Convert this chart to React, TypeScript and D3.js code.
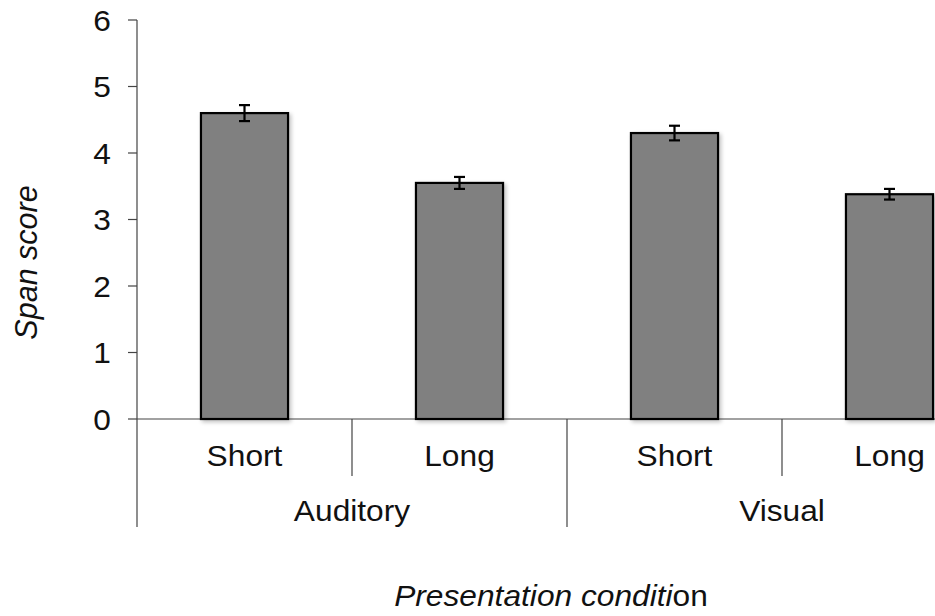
import React from "react";
import * as d3 from "d3";

const categories = ["Short", "Long", "Short", "Long"];
const groups = ["Auditory", "Visual"];
const values = [4.6, 3.55, 4.3, 3.38];
const errors = [0.12, 0.09, 0.11, 0.08];
const yTicks = [0, 1, 2, 3, 4, 5, 6];

const W = 935;
const H = 616;
const font = "'Liberation Sans', Arial, Helvetica, sans-serif";

function HText({ x, y, children, anchor = "middle", dy }: any) {
  return (
    <text
      transform={`translate(${x},${y}) scale(1.075,1)`}
      textAnchor={anchor}
      dy={dy}
      fontSize={29.5}
      fill="#111"
    >
      {children}
    </text>
  );
}

export default function App() {
  const x0 = 137;
  const x1 = 997;
  const p = 0.595;
  const x = d3
    .scaleBand<number>()
    .domain(d3.range(categories.length))
    .range([x0, x1])
    .paddingInner(p)
    .paddingOuter(p / 2);
  const y = d3.scaleLinear().domain([0, 6]).range([419, 20]);
  const step = x.step();

  return (
    <svg
      width={W}
      height={H}
      style={{ position: "absolute", left: 0, top: 0, background: "#fff" }}
      fontFamily={font}
    >
      <defs>
        <filter id="sh" x="-10%" y="-10%" width="130%" height="130%">
          <feGaussianBlur in="SourceAlpha" stdDeviation="2" />
          <feOffset dx="2" dy="2" result="b" />
          <feComponentTransfer>
            <feFuncA type="linear" slope="0.25" />
          </feComponentTransfer>
          <feMerge>
            <feMergeNode />
            <feMergeNode in="SourceGraphic" />
          </feMerge>
        </filter>
      </defs>
      {/* y axis */}
      <line x1={x0} x2={x0} y1={y(6)} y2={527} stroke="#444" strokeWidth={1.2} />
      {yTicks.map((t) => (
        <g key={t}>
          <line x1={x0 - 9} x2={x0} y1={y(t)} y2={y(t)} stroke="#444" strokeWidth={1.2} />
          <HText x={111} y={y(t)} anchor="end" dy="0.36em">
            {t}
          </HText>
        </g>
      ))}
      {/* x axis */}
      <line x1={x0} x2={W} y1={y(0)} y2={y(0)} stroke="#444" strokeWidth={1.2} />
      {/* separators */}
      {categories.map((_, i) => {
        if (i === 0) return null;
        const sx = x0 + i * step;
        const isGroup = i % 2 === 0;
        return (
          <line
            key={"s" + i}
            x1={sx}
            x2={sx}
            y1={y(0)}
            y2={isGroup ? 527 : 476}
            stroke="#444"
            strokeWidth={1.2}
          />
        );
      })}
      {/* bars */}
      {values.map((v, i) => (
        <rect
          key={"b" + i}
          x={x(i)!}
          y={y(v)}
          width={x.bandwidth()}
          height={y(0) - y(v)}
          fill="#808080"
          stroke="#000"
          strokeWidth={2.2}
          filter="url(#sh)"
        />
      ))}
      {/* error bars */}
      {values.map((v, i) => {
        const cx = x(i)! + x.bandwidth() / 2;
        const t = y(v + errors[i]);
        const b = y(v - errors[i]);
        return (
          <g key={"e" + i} stroke="#000" strokeWidth={2.2}>
            <line x1={cx} x2={cx} y1={t} y2={b} />
            <line x1={cx - 5.5} x2={cx + 5.5} y1={t} y2={t} />
            <line x1={cx - 5.5} x2={cx + 5.5} y1={b} y2={b} />
          </g>
        );
      })}
      {/* category labels */}
      {categories.map((c, i) => (
        <HText key={"c" + i} x={x(i)! + x.bandwidth() / 2} y={466}>
          {c}
        </HText>
      ))}
      {groups.map((g, gi) => (
        <HText key={"g" + gi} x={x0 + (gi * 2 + 1) * step} y={521}>
          {g}
        </HText>
      ))}
      {/* axis titles */}
      <text
        transform={`translate(37, 262.5) rotate(-90)`}
        textAnchor="middle"
        fontSize={30.5}
        fontStyle="italic"
        fill="#111"
      >
        Span score
      </text>
      <HText x={551} y={606}>
        <tspan fontStyle="italic">Presentation conditi</tspan>
        <tspan>on</tspan>
      </HText>
    </svg>
  );
}
